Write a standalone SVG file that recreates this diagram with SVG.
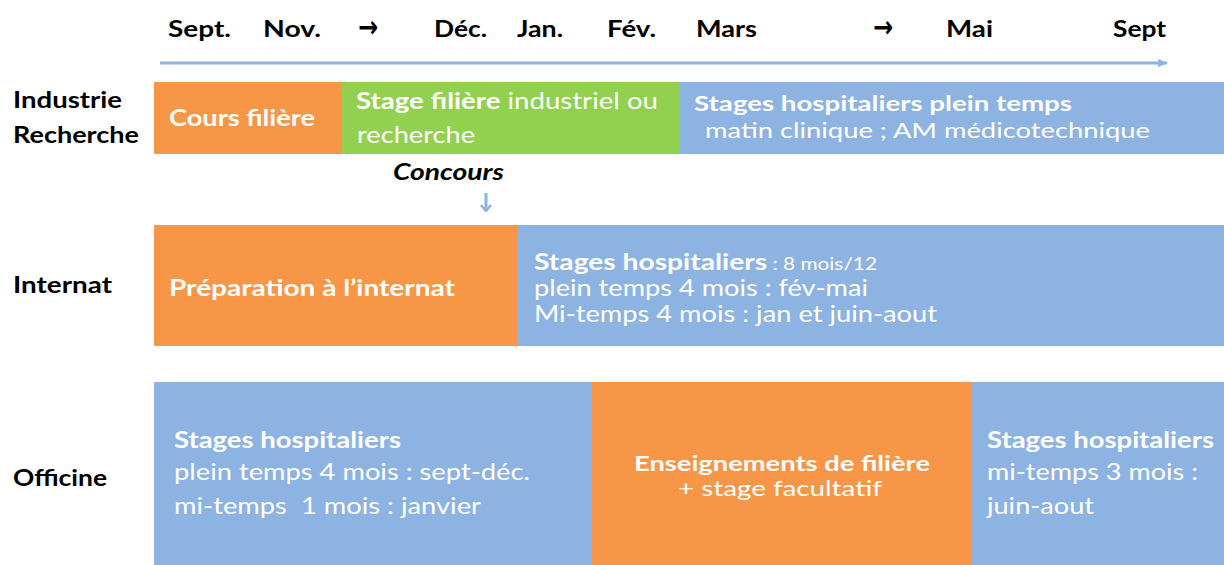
<svg xmlns="http://www.w3.org/2000/svg" width="1224" height="565" viewBox="0 0 1224 565">
<style>
text{font-family:Lato,"Open Sans","Liberation Sans",sans-serif}
.m{font-size:22px;font-weight:700;fill:#000}
.ar{font-family:"DejaVu Sans",sans-serif;font-size:30px;font-weight:700;fill:#000}
.lab{font-size:23px;font-weight:700;fill:#000}
.w{fill:#fff;font-size:23px}
.s{font-size:21.5px}
.b{font-weight:700}
.o{fill:#f79646}.g{fill:#92d050}.bl{fill:#8db3e2}
.ln{stroke:#8db3e2;stroke-width:3;fill:none}
</style>
<defs>
<marker id="ah" markerWidth="10" markerHeight="8" refX="9" refY="4" orient="auto" markerUnits="userSpaceOnUse">
<path d="M0,0 L10,4 L0,8 Z" fill="#8db3e2"/>
</marker>
<marker id="ah2" markerWidth="12" markerHeight="10" refX="6" refY="9" orient="0" markerUnits="userSpaceOnUse">
<path d="M1,3 L6,9 L11,3" fill="none" stroke="#8db3e2" stroke-width="2.5"/>
</marker>
</defs>
<rect width="1224" height="565" fill="#fff"/>
<g id="timeline">
<text class="m" x="168" y="37" textLength="63" lengthAdjust="spacingAndGlyphs">Sept.</text>
<text class="m" x="263" y="37" textLength="58" lengthAdjust="spacingAndGlyphs">Nov.</text>
<text class="ar" x="358" y="37" textLength="20" lengthAdjust="spacingAndGlyphs">→</text>
<text class="m" x="434" y="37" textLength="53" lengthAdjust="spacingAndGlyphs">Déc.</text>
<text class="m" x="517" y="37" textLength="46" lengthAdjust="spacingAndGlyphs">Jan.</text>
<text class="m" x="607" y="37" textLength="49" lengthAdjust="spacingAndGlyphs">Fév.</text>
<text class="m" x="696" y="37" textLength="61" lengthAdjust="spacingAndGlyphs">Mars</text>
<text class="ar" x="873" y="37" textLength="20" lengthAdjust="spacingAndGlyphs">→</text>
<text class="m" x="946" y="37" textLength="47" lengthAdjust="spacingAndGlyphs">Mai</text>
<text class="m" x="1113" y="37" textLength="53" lengthAdjust="spacingAndGlyphs">Sept</text>
</g>
<g id="connectors">
<line class="ln" x1="160" y1="63" x2="1167" y2="63" marker-end="url(#ah)"/>
<line x1="486" y1="193" x2="486" y2="211" stroke="#8db3e2" stroke-width="3" marker-end="url(#ah2)"/>
</g>
<g id="row-labels">
<text class="lab" x="13" y="108" textLength="109" lengthAdjust="spacingAndGlyphs">Industrie</text>
<text class="lab" x="13" y="143" textLength="126" lengthAdjust="spacingAndGlyphs">Recherche</text>
<text class="lab" x="13" y="293" textLength="99" lengthAdjust="spacingAndGlyphs">Internat</text>
<text class="lab" x="13" y="486" textLength="94" lengthAdjust="spacingAndGlyphs">Officine</text>
</g>
<g id="cours-filiere">
<rect class="o" x="154" y="82" width="188" height="72"/>
<text class="w b" x="169" y="126" textLength="146" lengthAdjust="spacingAndGlyphs">Cours filière</text>
</g>
<g id="stage-filiere">
<rect class="g" x="342" y="82" width="338" height="72"/>
<text class="w" x="356" y="109" textLength="302" lengthAdjust="spacingAndGlyphs"><tspan class="b">Stage filière</tspan> industriel ou</text>
<text class="w" x="357" y="143" textLength="118" lengthAdjust="spacingAndGlyphs">recherche</text>
</g>
<g id="stages-ir">
<rect class="bl" x="680" y="82" width="544" height="72"/>
<text class="w b s" x="694" y="111" textLength="378" lengthAdjust="spacingAndGlyphs">Stages hospitaliers plein temps</text>
<text class="w s" x="705" y="138" textLength="445" lengthAdjust="spacingAndGlyphs">matin clinique ; AM médicotechnique</text>
</g>
<g id="concours">
<text x="393" y="180" font-size="22" font-weight="700" font-style="italic" fill="#000" textLength="111" lengthAdjust="spacingAndGlyphs">Concours</text>
</g>
<g id="preparation">
<rect class="o" x="154" y="225" width="363" height="121"/>
<text class="w b" x="169" y="296" textLength="286" lengthAdjust="spacingAndGlyphs">Préparation à l’internat</text>
</g>
<g id="stages-internat">
<rect class="bl" x="517" y="225" width="707" height="121"/>
<text class="w" x="534" y="270" textLength="343" lengthAdjust="spacingAndGlyphs"><tspan class="b">Stages hospitaliers</tspan><tspan font-size="17"> : 8 mois/12</tspan></text>
<text class="w" x="534" y="296" textLength="334" lengthAdjust="spacingAndGlyphs">plein temps 4 mois : fév-mai</text>
<text class="w" x="534" y="322" textLength="403" lengthAdjust="spacingAndGlyphs">Mi-temps 4 mois : jan et juin-aout</text>
</g>
<g id="stages-officine-1">
<rect class="bl" x="154" y="382" width="438" height="183"/>
<text class="w b" x="174" y="448" textLength="227" lengthAdjust="spacingAndGlyphs">Stages hospitaliers</text>
<text class="w" x="174" y="480" textLength="356" lengthAdjust="spacingAndGlyphs">plein temps 4 mois : sept-déc.</text>
<text class="w" x="174" y="514" textLength="307" lengthAdjust="spacingAndGlyphs" xml:space="preserve">mi-temps  1 mois : janvier</text>
</g>
<g id="enseignements">
<rect class="o" x="592" y="382" width="380" height="183"/>
<text class="w b s" x="634" y="471" textLength="296" lengthAdjust="spacingAndGlyphs">Enseignements de filière</text>
<text class="w s" x="678" y="496" textLength="204" lengthAdjust="spacingAndGlyphs">+ stage facultatif</text>
</g>
<g id="stages-officine-2">
<rect class="bl" x="972" y="382" width="252" height="183"/>
<text class="w b" x="987" y="448" textLength="227" lengthAdjust="spacingAndGlyphs">Stages hospitaliers</text>
<text class="w" x="987" y="480" textLength="211" lengthAdjust="spacingAndGlyphs">mi-temps 3 mois :</text>
<text class="w" x="987" y="514" textLength="107" lengthAdjust="spacingAndGlyphs">juin-aout</text>
</g>
</svg>
